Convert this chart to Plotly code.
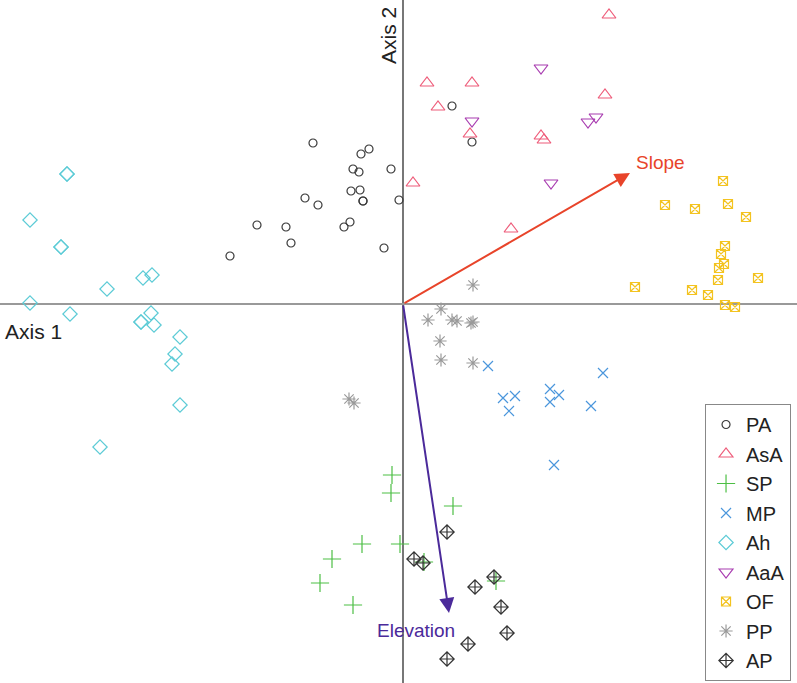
import plotly.graph_objects as go

groups = ["PA", "AsA", "SP", "MP", "Ah", "AaA", "OF", "PP", "AP"]

PA_x = [-0.90, -0.34, -0.42, -0.12, -0.50, -0.44, -0.52, -0.43, -0.40, -0.40, -0.98, -0.85, -0.04, -1.46, -1.17, -0.53, -0.59, -1.12, -0.19, -1.73, 0.49, 0.69]
PA_y = [1.61, 1.55, 1.50, 1.35, 1.35, 1.32, 1.13, 1.14, 1.03, 1.03, 1.06, 0.99, 1.04, 0.79, 0.77, 0.82, 0.77, 0.61, 0.56, 0.48, 1.98, 1.62]

AsA_x = [2.06, 0.24, 0.69, 0.35, 2.02, 0.67, 1.38, 1.41, 0.10, 1.08]
AsA_y = [2.89, 2.21, 2.21, 1.97, 2.09, 1.70, 1.68, 1.64, 1.21, 0.75]

SP_x = [-0.11, -0.12, 0.50, -0.41, -0.03, -0.71, -0.83, -0.50, 0.21, 0.93]
SP_y = [-1.71, -1.89, -2.02, -2.40, -2.40, -2.55, -2.79, -3.01, -2.58, -2.77]

MP_x = [0.85, 1.00, 1.12, 1.06, 1.47, 1.56, 1.47, 2.00, 1.88, 1.51]
MP_y = [-0.62, -0.94, -0.92, -1.07, -0.85, -0.91, -0.98, -0.69, -1.02, -1.61]

Ah_x = [-3.36, -3.36, -3.73, -3.42, -3.42, -2.96, -2.60, -2.51, -3.73, -3.33, -2.52, -2.62, -2.62, -2.49, -2.23, -2.28, -2.31, -2.23, -3.03]
Ah_y = [1.30, 1.30, 0.84, 0.57, 0.57, 0.15, 0.26, 0.29, 0.01, -0.10, -0.09, -0.18, -0.18, -0.21, -0.33, -0.50, -0.60, -1.01, -1.43]

AaA_x = [1.38, 0.69, 1.85, 1.93, 1.48]
AaA_y = [2.36, 1.83, 1.82, 1.87, 1.21]

OF_x = [3.20, 2.62, 2.92, 3.25, 3.43, 3.22, 3.18, 3.21, 3.16, 3.15, 3.55, 2.32, 2.89, 3.05, 3.22, 3.32]
OF_y = [1.23, 0.99, 0.95, 1.00, 0.87, 0.58, 0.50, 0.40, 0.36, 0.24, 0.26, 0.17, 0.14, 0.09, -0.01, -0.03]

PP_x = [0.70, 0.38, 0.25, 0.49, 0.54, 0.68, 0.70, 0.37, 0.38, 0.70, -0.54, -0.49]
PP_y = [0.19, -0.05, -0.16, -0.16, -0.17, -0.19, -0.18, -0.37, -0.56, -0.59, -0.95, -0.99]

AP_x = [0.44, 0.11, 0.20, 0.72, 0.91, 0.98, 1.04, 0.65, 0.44]
AP_y = [-2.28, -2.55, -2.59, -2.83, -2.73, -3.03, -3.29, -3.40, -3.55]

vector_names = ["Slope", "Elevation"]
vector_x = [2.27, 0.46]
vector_y = [1.31, -3.09]

data = {
    "PA": (PA_x, PA_y), "AsA": (AsA_x, AsA_y), "SP": (SP_x, SP_y), "MP": (MP_x, MP_y),
    "Ah": (Ah_x, Ah_y), "AaA": (AaA_x, AaA_y), "OF": (OF_x, OF_y), "PP": (PP_x, PP_y), "AP": (AP_x, AP_y),
}
styles = {
    "PA": ("circle-open", "#3a3a3a", 8),
    "AsA": ("triangle-up-open", "#EE5C7A", 12),
    "SP": ("cross-thin-open", "#4DBF45", 13),
    "MP": ("x-thin-open", "#4A96DC", 10),
    "Ah": ("diamond-open", "#5CCBD6", 11),
    "AaA": ("triangle-down-open", "#A83CB0", 12),
    "OF": ("square-x-open", "#F3C320", 9),
    "PP": ("asterisk-open", "#9A9A9A", 11),
    "AP": ("diamond-cross-open", "#333333", 11),
}

fig = go.Figure()
for g in groups:
    xs, ys = data[g]
    sym, col, sz = styles[g]
    fig.add_trace(go.Scatter(
        x=xs, y=ys, mode="markers", name=g, legendgroup=g,
        marker=dict(symbol=sym, color=col, size=sz, line=dict(color=col, width=1.2)),
    ))

vec_colors = ["#E8442A", "#4B2A9A"]
label_off = [(0.30, 0.11), (-0.33, -0.17)]
for name, vx, vy, c, off in zip(vector_names, vector_x, vector_y, vec_colors, label_off):
    fig.add_annotation(x=vx, y=vy, ax=0, ay=0, xref="x", yref="y", axref="x", ayref="y",
                       showarrow=True, arrowhead=2, arrowsize=1.5, arrowwidth=2, arrowcolor=c, text="")
    fig.add_annotation(x=vx + off[0], y=vy + off[1], text=name, showarrow=False,
                       font=dict(size=19, color=c, family="Liberation Sans, Arial"))

fig.add_annotation(x=-4.00, y=-0.27, text="Axis 1", showarrow=False, xanchor="left",
                   font=dict(size=21, color="#222", family="Liberation Sans, Arial"))
fig.add_annotation(x=-0.15, y=2.68, text="Axis 2", showarrow=False, textangle=-90,
                   font=dict(size=21, color="#222", family="Liberation Sans, Arial"))

fig.update_xaxes(range=[-4.03, 3.94], showgrid=False, showticklabels=False, ticks="",
                 zeroline=True, zerolinecolor="#777", zerolinewidth=1.5, showline=False)
fig.update_yaxes(range=[-3.79, 3.04], showgrid=False, showticklabels=False, ticks="",
                 zeroline=True, zerolinecolor="#999", zerolinewidth=1.5, showline=False)

fig.update_layout(
    width=797, height=683, margin=dict(l=0, r=0, t=0, b=0, pad=0, autoexpand=False),
    plot_bgcolor="white", paper_bgcolor="white",
    font=dict(family="Liberation Sans, Arial", color="#222"),
    legend=dict(x=0.8846, y=0.4085, xanchor="left", yanchor="top",
                bordercolor="#888", borderwidth=1, bgcolor="white",
                font=dict(size=20), tracegroupgap=0.5, itemsizing="trace"),
)

fig.write_html("out.html", config={"displayModeBar": False},
               post_script="document.body.style.margin='0';document.body.style.padding='0';")
